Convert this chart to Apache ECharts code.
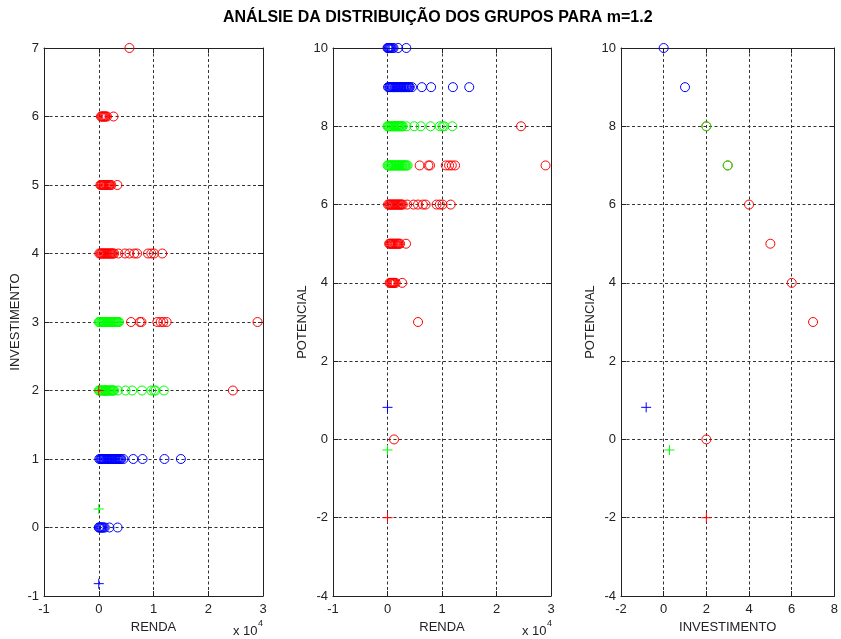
<!DOCTYPE html>
<html>
<head>
<meta charset="utf-8">
<title>Análise da distribuição dos grupos</title>
<script src="https://cdn.jsdelivr.net/npm/echarts@6/dist/echarts.min.js"></script>
<style>
  html, body { margin: 0; padding: 0; background: #fff; }
  #chart { width: 841px; height: 639px; }
</style>
</head>
<body>
<div id="chart"></div>
<script>
/* renda de cada faixa de pontos, nomeada por investimento e potencial */
var azulInv0Pot10 = [0, 100, 250, 400, 550, 700, 900, 1100, 1950, 3450];
var azulInv1Pot9 = [100, 300, 450, 600, 800, 950, 1100, 1300, 1450, 1600, 1800, 1950, 2100, 2300, 2450,
  2600, 2800, 2950, 3100, 3300, 3450, 3600, 3800, 3950, 4100, 4500, 6300, 8000, 12000, 15000];
var verdeInv2Pot8 = [0, 150, 300, 500, 650, 800, 1000, 1150, 1300, 1500, 1650, 1800, 2000, 2150, 2300,
  2500, 2650, 2800, 3500, 4900, 6100, 7900, 9600, 10100, 10400, 11900];
var verdeInv3Pot7 = [0, 150, 300, 500, 650, 800, 1000, 1150, 1300, 1500, 1650, 1800, 2000, 2150, 2300,
  2500, 2650, 2800, 3000, 3150, 3300, 3500, 3700];
var vermelhoInv2Pot0 = [1200];
var vermelhoInv2Pot8 = [24500];
var vermelhoInv3Pot7 = [5900, 7500, 7800, 10700, 11300, 11800, 12400, 29000];
var vermelhoInv4Pot6 = [100, 300, 450, 600, 800, 950, 1100, 1300, 1450, 1600, 1800, 1950, 2100, 2300,
  2450, 2600, 2800, 3600, 4800, 5600, 6500, 7000, 9000, 9600, 10100, 11600];
var vermelhoInv5Pot5 = [300, 450, 600, 800, 950, 1100, 1300, 1450, 1600, 1800, 1950, 2100, 2300, 3400];
var vermelhoInv6Pot4 = [400, 550, 700, 850, 1000, 1150, 1300, 1500, 2700];
var vermelhoInv7Pot3 = [5600];

/* centros dos grupos: azul, verde, vermelho */
var centroRenda = [0, 0, 0];
var centroInv = [-0.82, 0.27, 2.0];
var centroPot = [0.82, -0.27, -2.0];
var coresGrupo = ['#0000ff', '#00ff00', '#ff0000'];

/* marcas dos eixos: min, max, intervalo */
var ticksRenda = [-10000, 30000, 10000];
var ticksInv = [-1, 7, 1];
var ticksPot = [-4, 10, 2];
var ticksInv3 = [-2, 8, 2];

var linhasVermelho = [
  [2, 0, vermelhoInv2Pot0], [2, 8, vermelhoInv2Pot8], [3, 7, vermelhoInv3Pot7],
  [4, 6, vermelhoInv4Pot6], [5, 5, vermelhoInv5Pot5], [6, 4, vermelhoInv6Pot4], [7, 3, vermelhoInv7Pot3]
];
var linhasVerde = [[2, 8, verdeInv2Pot8], [3, 7, verdeInv3Pot7]];
var linhasAzul = [[0, 10, azulInv0Pot10], [1, 9, azulInv1Pot9]];

var fonte = 'Liberation Sans, Arial, sans-serif';
var grades = [
  { left: 44, top: 48, width: 219, height: 548 },
  { left: 333, top: 48, width: 218, height: 548 },
  { left: 621, top: 48, width: 218, height: 548 }
];

/* monta os pontos de uma grade: modo 0 renda x inv, 1 renda x pot, 2 inv x pot */
function pontos(linhas, modo) {
  var out = [];
  linhas.forEach(function (l) {
    if (modo === 2) { out.push([l[0], l[1]]); return; }
    l[2].forEach(function (r) {
      out.push([r, modo === 0 ? l[0] : l[1]]);
    });
  });
  return out;
}

function centros(i, modo) {
  if (modo === 0) return [[centroRenda[i], centroInv[i]]];
  if (modo === 1) return [[centroRenda[i], centroPot[i]]];
  return [[centroInv[i], centroPot[i]]];
}

function eixo(g, t, pos, nome, gap, fmt) {
  var principal = pos === 'bottom' || pos === 'left';
  return {
    gridIndex: g, type: 'value', position: pos,
    min: t[0], max: t[1], interval: t[2],
    name: principal ? nome : '', nameLocation: 'middle', nameGap: gap,
    nameTextStyle: { fontFamily: fonte, fontSize: 13, color: '#222' },
    axisLine: { show: true, onZero: false, lineStyle: { color: '#222', width: 1 } },
    axisTick: { show: true, inside: true, length: 5, lineStyle: { color: '#222' } },
    axisLabel: { show: principal, margin: pos === 'bottom' ? 7 : 5, fontFamily: fonte, fontSize: 13, color: '#222',
      formatter: fmt || function (v) { return String(v); } },
    splitLine: { show: principal, lineStyle: { color: '#333', type: [3, 2.5], width: 1 } }
  };
}

var fmtRenda = function (v) { return String(v / 10000); };

var xAxes = [], yAxes = [], series = [];
var defs = [
  { x: ticksRenda, y: ticksInv, xn: 'RENDA', yn: 'INVESTIMENTO', yg: 22, fx: fmtRenda },
  { x: ticksRenda, y: ticksPot, xn: 'RENDA', yn: 'POTENCIAL', yg: 24, fx: fmtRenda },
  { x: ticksInv3, y: ticksPot, xn: 'INVESTIMENTO', yn: 'POTENCIAL', yg: 24, fx: null }
];

defs.forEach(function (d, g) {
  xAxes.push(eixo(g, d.x, 'bottom', d.xn, 20, d.fx));
  xAxes.push(eixo(g, d.x, 'top', '', 0, d.fx));
  yAxes.push(eixo(g, d.y, 'left', d.yn, d.yg));
  yAxes.push(eixo(g, d.y, 'right', '', 0));
  var grupos = [[linhasVermelho, '#ff0000'], [linhasVerde, '#00ff00'], [linhasAzul, '#0000ff']];
  grupos.forEach(function (gr) {
    series.push({
      type: 'scatter', xAxisIndex: g * 2, yAxisIndex: g * 2,
      symbol: 'circle', symbolSize: 9, silent: true,
      itemStyle: { color: 'none', borderColor: gr[1], borderWidth: 1, opacity: 1 },
      data: pontos(gr[0], g)
    });
  });
  [2, 1, 0].forEach(function (i) {
    series.push({
      type: 'scatter', xAxisIndex: g * 2, yAxisIndex: g * 2,
      symbol: 'path://M0,5L10,5M5,0L5,10', symbolSize: 10, silent: true,
      itemStyle: { color: 'none', borderColor: coresGrupo[i], borderWidth: 1, opacity: 1 },
      data: centros(i, g)
    });
  });
});

var chart = echarts.init(document.getElementById('chart'));
chart.setOption({
  backgroundColor: '#fff',
  animation: false,
  title: {
    text: 'ANÁLSIE DA DISTRIBUIÇÃO DOS GRUPOS PARA m=1.2',
    left: 218, top: 5,
    textStyle: { fontFamily: fonte, fontSize: 16, fontWeight: 'bold', color: '#000' }
  },
  grid: grades,
  xAxis: xAxes,
  yAxis: yAxes,
  series: series,
  graphic: [
    { type: 'text', left: 233, top: 625, style: { text: 'x 10', font: '13px ' + fonte, fill: '#222' } },
    { type: 'text', left: 258, top: 619, style: { text: '4', font: '9px ' + fonte, fill: '#222' } },
    { type: 'text', left: 522, top: 625, style: { text: 'x 10', font: '13px ' + fonte, fill: '#222' } },
    { type: 'text', left: 547, top: 619, style: { text: '4', font: '9px ' + fonte, fill: '#222' } }
  ]
});
</script>
</body>
</html>
